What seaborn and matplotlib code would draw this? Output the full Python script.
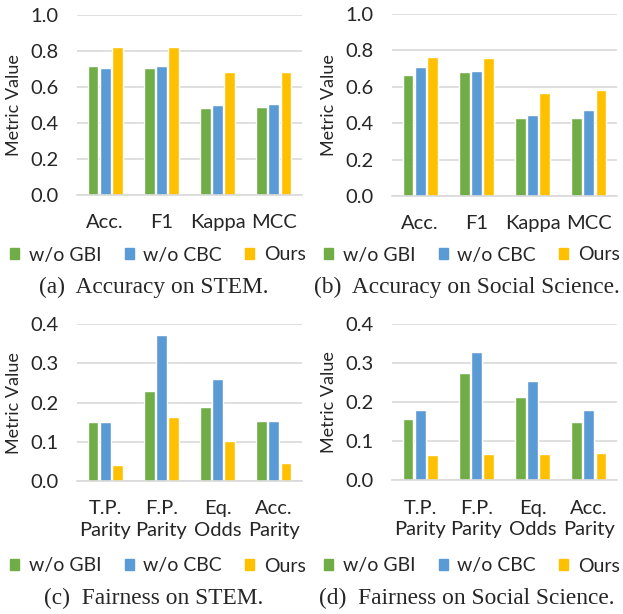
import pandas as pd
import matplotlib.pyplot as plt
import seaborn as sns

# data
methods = ["w/o GBI", "w/o CBC", "Ours"]
colors = ["#70AD47", "#5B9BD5", "#FFC000"]

acc_metrics = ["Acc.", "F1", "Kappa", "MCC"]
stem_acc = {
    "w/o GBI": [0.721, 0.710, 0.487, 0.491],
    "w/o CBC": [0.710, 0.716, 0.500, 0.507],
    "Ours":    [0.827, 0.825, 0.684, 0.686],
}
social_acc = {
    "w/o GBI": [0.665, 0.681, 0.426, 0.431],
    "w/o CBC": [0.709, 0.689, 0.444, 0.470],
    "Ours":    [0.766, 0.758, 0.567, 0.582],
}

fair_metrics = ["T.P.\nParity", "F.P.\nParity", "Eq.\nOdds", "Acc.\nParity"]
stem_fair = {
    "w/o GBI": [0.150, 0.229, 0.190, 0.152],
    "w/o CBC": [0.150, 0.372, 0.260, 0.152],
    "Ours":    [0.040, 0.163, 0.102, 0.045],
}
social_fair = {
    "w/o GBI": [0.156, 0.274, 0.214, 0.149],
    "w/o CBC": [0.180, 0.327, 0.254, 0.179],
    "Ours":    [0.064, 0.066, 0.066, 0.071],
}

captions = ["(a)  Accuracy on STEM.", "(b)  Accuracy on Social Science.",
            "(c)  Fairness on STEM.", "(d)  Fairness on Social Science."]

sns.set_style("white")
plt.rcParams["font.family"] = ["Lato", "DejaVu Sans"]

fig = plt.figure(figsize=(6.23, 6.14), dpi=100)
W, H = 623, 614


def to_long(metrics, values):
    rows = []
    for m in methods:
        for cat, v in zip(metrics, values[m]):
            rows.append({"metric": cat, "method": m, "value": v})
    return pd.DataFrame(rows)


acc_ticks = [0, 0.2, 0.4, 0.6, 0.8, 1.0]
fair_ticks = [0, 0.1, 0.2, 0.3, 0.4]
# (data, categories, ymax, ticks, axes box in px, legend/caption centre x)
panels = [
    (to_long(acc_metrics, stem_acc), acc_metrics, 1.0, acc_ticks, (77, 15.5, 302, 195), 158, 154),
    (to_long(acc_metrics, social_acc), acc_metrics, 1.0, acc_ticks, (392, 14, 617, 196), 472, 467),
    (to_long(fair_metrics, stem_fair), fair_metrics, 0.4, fair_ticks, (77, 324.3, 302, 481), 158, 154),
    (to_long(fair_metrics, social_fair), fair_metrics, 0.4, fair_ticks, (392, 323.7, 617, 480.3), 472, 467),
]

for i, (df, metrics, ymax, ticks, box, leg_x, cap_x) in enumerate(panels):
    x0, y0, x1, y1 = box
    ax = fig.add_axes([x0 / W, 1 - y1 / H, (x1 - x0) / W, (y1 - y0) / H])
    sns.barplot(data=df, x="metric", y="value", hue="method", order=metrics,
                hue_order=methods, palette=colors, width=0.645, gap=0.1,
                ax=ax, legend=False, saturation=1)
    ax.set_ylim(0, ymax)
    ax.set_xlim(-0.5, 3.5)
    ax.set_yticks(ticks)
    ax.set_yticklabels([f"{t:.1f}" for t in ticks], fontsize=14.5)
    ax.set_xticks(range(4))
    ax.set_xticklabels(metrics, fontsize=14.5, linespacing=1.3)
    ax.tick_params(axis="y", length=0, pad=13)
    ax.tick_params(axis="x", length=0, pad=14)
    ax.grid(axis="y", color="#D9D9D9", linewidth=1.2)
    ax.set_axisbelow(True)
    for s in ["top", "right", "left"]:
        ax.spines[s].set_visible(False)
    ax.spines["bottom"].set_color("#D9D9D9")
    ax.spines["bottom"].set_linewidth(1.2)
    ax.set_xlabel("")
    ax.set_ylabel("Metric Value", fontsize=13, labelpad=6)

    # legend and caption under each panel
    handles = [plt.Rectangle((0, 0), 1, 1, color=c) for c in colors]
    leg_y = 255 if i < 2 else 566
    fig.legend(handles, methods, loc="center", ncol=3, frameon=False,
               bbox_to_anchor=(leg_x / W, 1 - leg_y / H), fontsize=14,
               handlelength=0.45, handleheight=0.45, handletextpad=0.5,
               columnspacing=1.2)
    cap_y = 287 if i < 2 else 598
    fig.text(cap_x / W, 1 - cap_y / H, captions[i], ha="center", va="center",
             fontsize=16.8, family="Liberation Serif")

fig.savefig("out.png", dpi=100)
plt.close(fig)
